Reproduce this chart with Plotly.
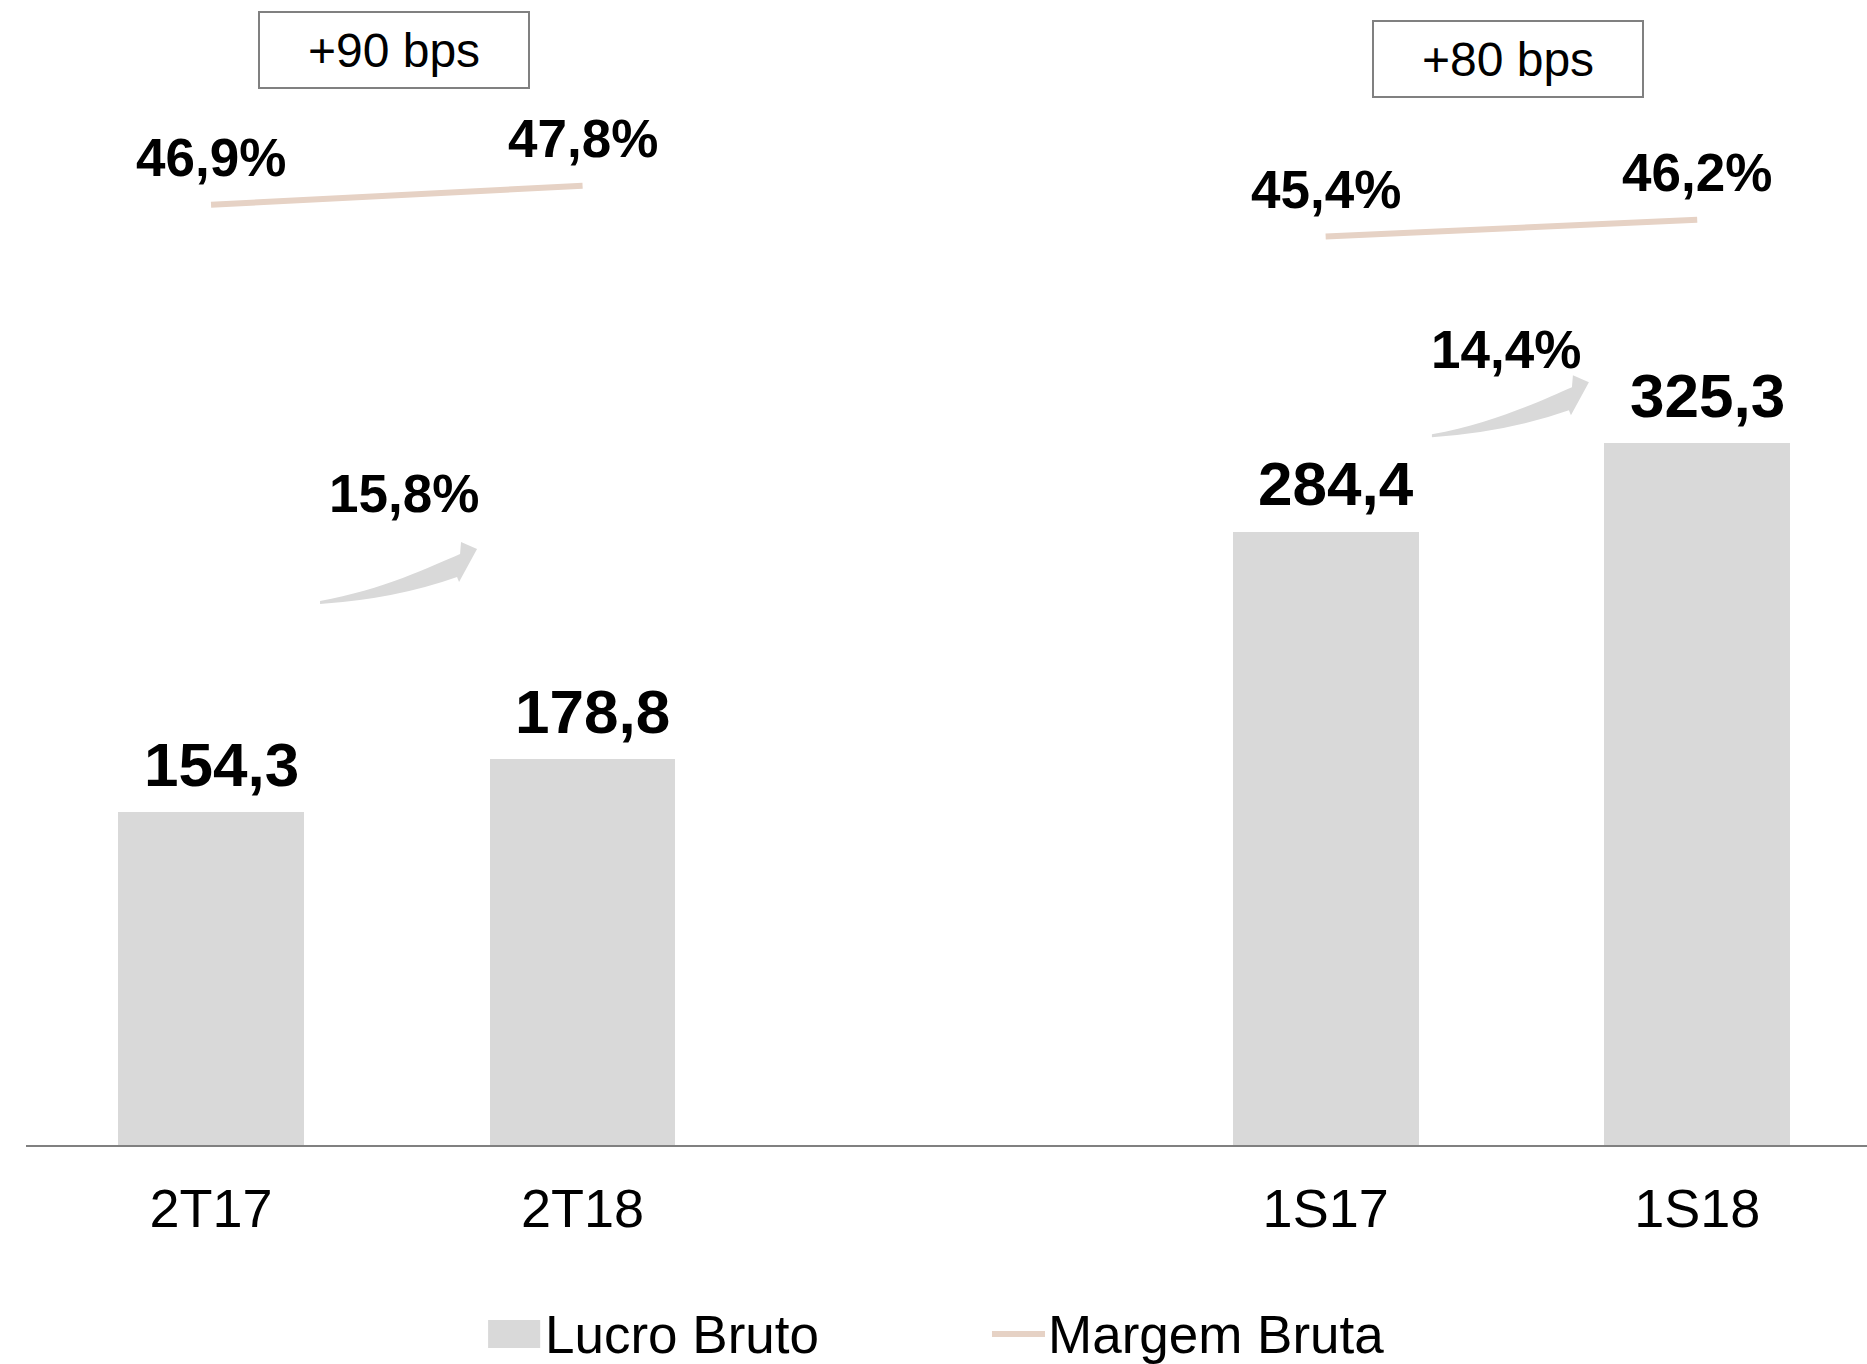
import plotly.graph_objects as go

# ---- data ----
categories = ["2T17", "2T18", "1S17", "1S18"]
x_pos = [0, 1, 3, 4]
lucro_bruto = [154.3, 178.8, 284.4, 325.3]
lucro_labels = ["154,3", "178,8", "284,4", "325,3"]
margem_bruta = [46.9, 47.8, 45.4, 46.2]
margem_labels = ["46,9%", "47,8%", "45,4%", "46,2%"]
growth_labels = ["15,8%", "14,4%"]
growth_x = [0.519, 3.486]
growth_y = [302.1, 369.0]
bps_labels = ["+90 bps", "+80 bps"]
bps_x = [0.4926, 3.491]
bps_y = [0.9563, 0.9489]
arrow_x = [0.2934, 3.286]
arrow_y = [250.8, 328.1]

FONT = "Liberation Sans, Arial, sans-serif"
BAR_COLOR = "#D9D9D9"
LINE_COLOR = "#E6D2C5"

fig = go.Figure()

fig.add_trace(go.Bar(
    x=x_pos, y=lucro_bruto, width=0.5, marker=dict(color=BAR_COLOR, line=dict(width=0)),
    name="Lucro Bruto", showlegend=False, hoverinfo="skip",
))

# margin line: two separate segments
mx, my = [], []
for i, (xv, yv) in enumerate(zip(x_pos, margem_bruta)):
    if i == 2:
        mx.append(None); my.append(None)
    mx.append(xv); my.append(yv)
fig.add_trace(go.Scatter(
    x=mx, y=my, mode="lines", yaxis="y2", connectgaps=False,
    line=dict(color=LINE_COLOR, width=6), name="Margem Bruta",
    showlegend=False, hoverinfo="skip",
))

annotations = []
for xv, yv, t in zip(x_pos, lucro_bruto, lucro_labels):
    annotations.append(dict(x=xv, y=yv, xref="x", yref="y", text=t, showarrow=False,
                            xanchor="center", yanchor="middle", yshift=48, xshift=10,
                            font=dict(family=FONT, size=62, color="black", weight="bold")))
for xv, yv, t in zip(x_pos, margem_bruta, margem_labels):
    annotations.append(dict(x=xv, y=yv, xref="x", yref="y2", text=t, showarrow=False,
                            xanchor="center", yanchor="middle", yshift=47,
                            font=dict(family=FONT, size=53, color="black", weight="bold")))
for xv, yv, t in zip(growth_x, growth_y, growth_labels):
    annotations.append(dict(x=xv, y=yv, xref="x", yref="y", text=t, showarrow=False,
                            xanchor="center", yanchor="middle",
                            font=dict(family=FONT, size=53, color="black", weight="bold")))
for xv, yv, t in zip(bps_x, bps_y, bps_labels):
    annotations.append(dict(x=xv, y=yv, xref="x", yref="paper", text=t, showarrow=False,
                            xanchor="center", yanchor="middle", width=268, height=74,
                            bordercolor="#808080", borderwidth=2, borderpad=0,
                            bgcolor="white",
                            font=dict(family=FONT, size=48, color="black")))

# custom legend
annotations.append(dict(x=0.2808, y=-0.1659, xref="paper", yref="paper", text="Lucro Bruto",
                        showarrow=False, xanchor="left", yanchor="middle",
                        font=dict(family=FONT, size=53, color="black")))
annotations.append(dict(x=0.5540, y=-0.1659, xref="paper", yref="paper", text="Margem Bruta",
                        showarrow=False, xanchor="left", yanchor="middle",
                        font=dict(family=FONT, size=53, color="black")))

shapes = []
arrow_path = ("M 0,0 Q 75,5 137,27 L 139,22 L 157,55 L 141,62 L 140,50 "
              "C 112,38 62,14 0,3 Z")
for ax_, ay_ in zip(arrow_x, arrow_y):
    shapes.append(dict(type="path", xref="x", yref="y", xsizemode="pixel", ysizemode="pixel",
                       xanchor=ax_, yanchor=ay_, path=arrow_path,
                       fillcolor=BAR_COLOR, line=dict(width=0), layer="above"))
shapes.append(dict(type="rect", xref="paper", yref="paper", x0=0.2510, x1=0.2793,
                   y0=-0.1773, y1=-0.1528, fillcolor=BAR_COLOR, line=dict(width=0)))
shapes.append(dict(type="line", xref="paper", yref="paper", x0=0.5247, x1=0.5535,
                   y0=-0.1651, y1=-0.1651, line=dict(color=LINE_COLOR, width=6)))

fig.update_layout(
    width=1867, height=1364,
    margin=dict(l=26, r=0, t=0, b=219, pad=0),
    paper_bgcolor="white", plot_bgcolor="white",
    showlegend=False,
    font=dict(family=FONT, color="black"),
    xaxis=dict(range=[-0.498, 4.457], tickvals=x_pos, ticktext=categories,
               showline=True, linecolor="#808080", linewidth=2, showgrid=False,
               zeroline=False, ticks="", tickfont=dict(family=FONT, size=54, color="black"),
               ticklabelstandoff=15, fixedrange=True),
    yaxis=dict(range=[0, 530.8], visible=False, fixedrange=True),
    yaxis2=dict(range=[2.55, 56.56], overlaying="y", visible=False, fixedrange=True),
    annotations=annotations,
    shapes=shapes,
    bargap=0,
)

fig.write_html("out.html", config={"displayModeBar": False},
               post_script="document.body.style.margin='0px';")
